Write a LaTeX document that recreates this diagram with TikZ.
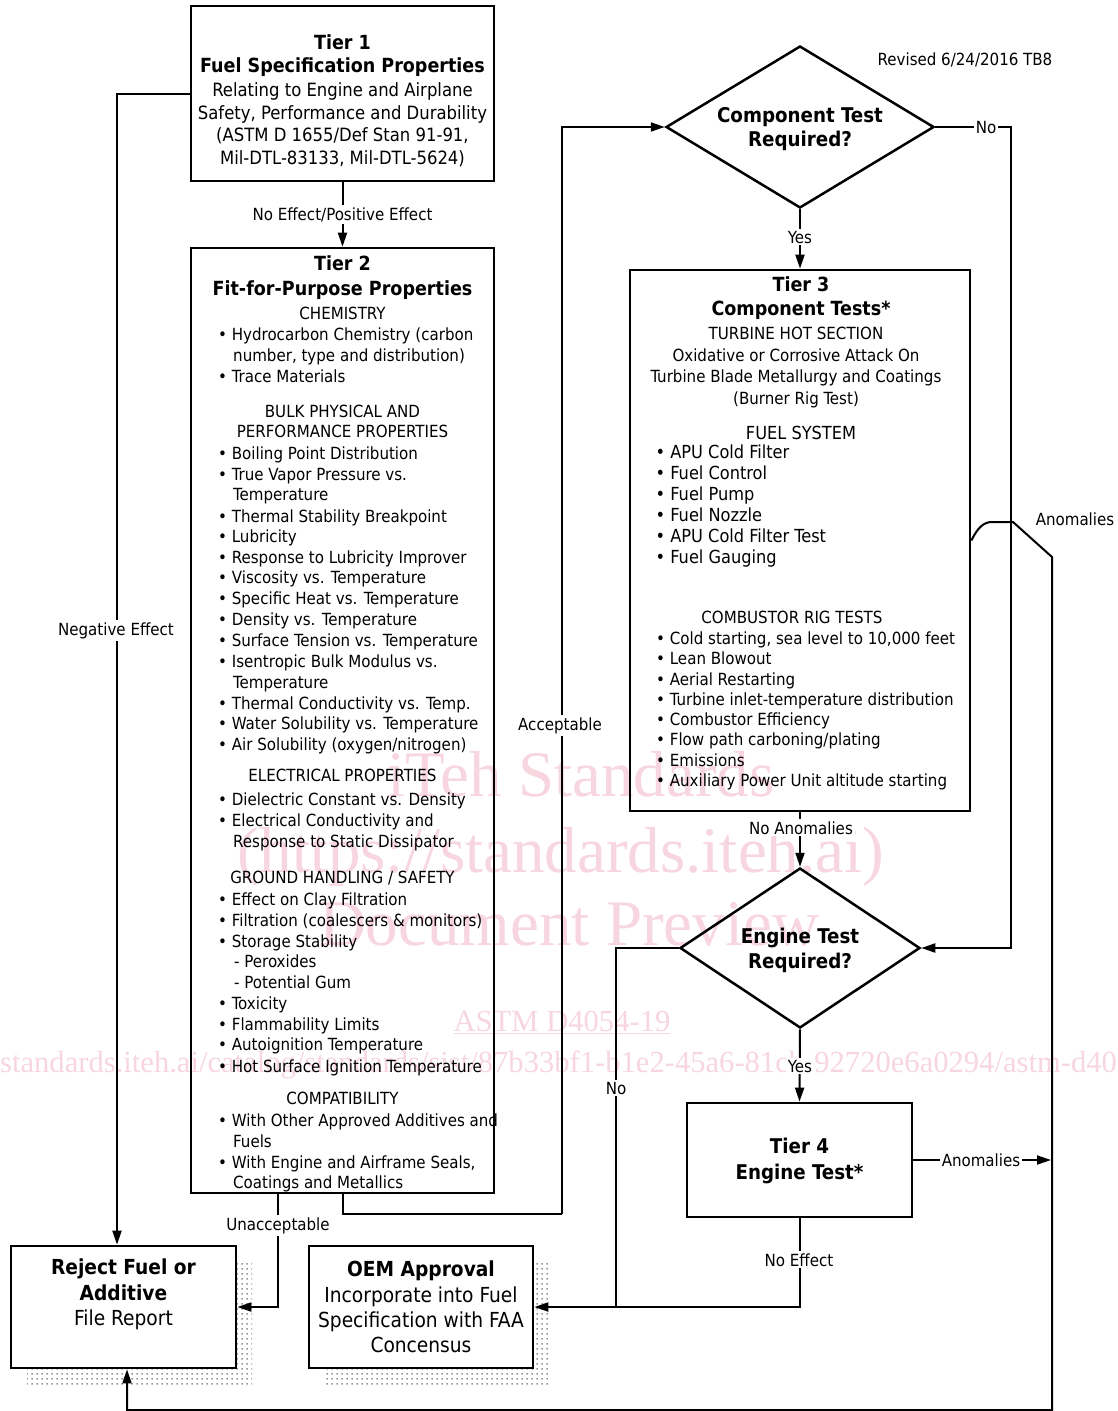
\documentclass[tikz,border=0pt]{standalone}
\usepackage{fontspec}
\setmainfont{DejaVu Sans Condensed}
\newfontfamily\wmfont{Liberation Serif}
\usetikzlibrary{arrows.meta,shapes.geometric,patterns.meta,calc}
\definecolor{wmc}{RGB}{248,214,224}
\definecolor{shd}{RGB}{150,150,150}
\newcommand\myfA{\fontsize{16.75pt}{20pt}\selectfont}
\newcommand\myfB{\fontsize{18.3pt}{22pt}\selectfont}
\newcommand\myfH{\fontsize{19.5pt}{23pt}\selectfont\bfseries}
\newcommand\myfD{\fontsize{20.3pt}{24pt}\selectfont\bfseries}
\newcommand\myfF{\fontsize{18pt}{21pt}\selectfont}
\newcommand\myfE{\fontsize{20.7pt}{25pt}\selectfont}
\newcommand\myfEb{\fontsize{20.7pt}{25pt}\selectfont\bfseries}
\newcommand\myfW{\fontsize{65pt}{70pt}\selectfont\wmfont}
\newcommand\myfU{\fontsize{30.6pt}{33pt}\selectfont\wmfont}
\newcounter{tlc}
\newcommand\myT[4]{\stepcounter{tlc}\node[#1] (L\arabic{tlc}) at (#2,#3) {#4};}
\tikzdeclarepattern{
  name=shdots,
  type=uncolored,
  bottom left={(0pt,0pt)},
  top right={(5pt,5pt)},
  tile size={(5pt,5pt)},
  code={\fill (1.5pt,1.5pt) rectangle (3.3pt,3.3pt);}
}
\tikzset{
  box/.style={draw, line width=2.7pt, inner sep=0pt, rectangle},
  dia/.style={draw, line width=2.5pt, inner sep=0pt, diamond},
  conn/.style={line width=2pt},
  arr/.style={line width=2pt, -{Triangle[length=14pt,width=9pt]}},
  lbl/.style={fill=white, inner sep=2pt, font=\myfA, anchor=base, yshift=-6.1pt},
  sm/.style={inner sep=0pt, font=\myfA, anchor=base, yshift=-6.1pt},
  smw/.style={sm, anchor=base west},
  md/.style={inner sep=0pt, font=\myfB, anchor=base, yshift=-6.7pt},
  hd/.style={inner sep=0pt, font=\myfH, anchor=base, yshift=-7.1pt},
  dd/.style={inner sep=0pt, font=\myfD, anchor=base, yshift=-7.4pt},
  fs/.style={inner sep=0pt, font=\myfF, anchor=base, yshift=-6.6pt},
  fsw/.style={fs, anchor=base west},
  bx/.style={inner sep=0pt, font=\myfE, anchor=base, yshift=-7.5pt},
  bxb/.style={inner sep=0pt, font=\myfEb, anchor=base, yshift=-7.5pt},
  shadow/.style={pattern=shdots, pattern color=shd},
  wm/.style={inner sep=0pt, text=wmc, anchor=base},
}
\begin{document}
\begin{tikzpicture}[x=1pt,y=-1pt]
\useasboundingbox (0,0) rectangle (1118,1411);
\clip (0,0) rectangle (1118,1411);
\fill[white] (0,0) rectangle (1118,1411);

% watermark
\node[wm, font=\myfW] (wm1) at (581,796.5) {iTeh Standards};
\node[wm, font=\myfW] (wm2) at (561,872) {(https://standards.iteh.ai)};
\node[wm, font=\myfW] (wm3) at (569,945) {Document Preview};
\node[wm, font=\myfU] (wm4) at (562,1031) {\underline{ASTM D4054-19}};
\node[wm, font=\myfU, anchor=base west] (wm5) at (0,1072) {standards.iteh.ai/catalog/standards/sist/87b33bf1-b1e2-45a6-81cb-92720e6a0294/astm-d4054-19};

% shadows
\fill[shadow] (27,1263) rectangle (252,1385);
\fill[shadow] (325,1263) rectangle (549,1385);

% boxes
\node[box, minimum width=303pt, minimum height=175pt] (t1) at (342.5,93.5) {};
\node[box, minimum width=303pt, minimum height=945pt] (t2) at (342.5,720.5) {};
\node[box, minimum width=340pt, minimum height=541pt] (t3) at (800,540.5) {};
\node[box, minimum width=225pt, minimum height=114pt] (t4) at (799.5,1160) {};
\node[box, fill=white, minimum width=225pt, minimum height=122pt] (rej) at (123.5,1307) {};
\node[box, fill=white, minimum width=224pt, minimum height=122pt] (oem) at (421,1307) {};
\node[dia, aspect=1.65, minimum width=268pt, minimum height=162pt] (comp) at (800,127) {};
\node[dia, aspect=1.5, minimum width=240pt, minimum height=160pt] (eng) at (800,948) {};

% waypoints
\coordinate (accc) at (562,1214);
\coordinate (noc) at (1011,500);
\coordinate (jn) at (616,1307);
\coordinate (anE) at (1051,1160);
\coordinate (hopA) at (992,522);
\coordinate (hopB) at (1013,522);
\coordinate (dgE) at (1052,557);
\coordinate (brR) at (1052,1410);
\coordinate (brL) at (127,1410);

% connectors
\draw[arr] (t1.south) -- (t2.north);
\draw[arr] (t1.west) -| ([xshift=-6.5pt]rej.north);
\draw[arr] ([xshift=-64.5pt]t2.south) |- (rej.east);
\draw[conn] (t2.south) |- (accc);
\draw[arr] (accc) |- (comp.west);
\draw[arr] (comp.south) -- (t3.north);
\draw[conn] (comp.east) -| (noc);
\draw[arr] (noc) |- (eng.east);
\draw[arr] (t3.south) -- (eng.north);
\draw[arr] (eng.south) -- (t4.north);
\draw[conn] (eng.west) -| (jn);
\draw[arr] (t4.south) |- (oem.east);
\draw[arr] (t4.east) -- (anE);
\draw[arr] (t3.east) .. controls (978,527) and (984,522) .. (hopA) -- (hopB) -- (dgE) -- (brR) -- (brL) -- ([xshift=3.5pt]rej.south);

% connector labels
\node[lbl] (lb1) at (342.5,214) {No Effect/Positive Effect};
\node[lbl] (lb2) at (116,629) {Negative Effect};
\node[lbl] (lb3) at (278,1224) {Unacceptable};
\node[lbl] (lb4) at (560,724) {Acceptable};
\node[lbl] (lb5) at (800,237) {Yes};
\node[lbl] (lb6) at (986,127) {No};
\node[lbl] (lb7) at (801,828) {No Anomalies};
\node[lbl] (lb8) at (800,1066) {Yes};
\node[lbl] (lb9) at (616,1088) {No};
\node[lbl] (lb10) at (799,1260) {No Effect};
\node[lbl] (lb11) at (981,1160) {Anomalies};
\node[sm] (lb12) at (1075,519) {Anomalies};
\node[sm] (lb13) at (965,59) {Revised 6/24/2016 TB8};

% Tier 1
\myT{hd}{342.5}{42}{Tier 1}
\myT{hd}{342.5}{65}{Fuel Specification Properties}
\myT{md}{342.5}{90}{Relating to Engine and Airplane}
\myT{md}{342.5}{113}{Safety, Performance and Durability}
\myT{md}{342.5}{135}{(ASTM D 1655/Def Stan 91-91,}
\myT{md}{342.5}{158}{Mil-DTL-83133, Mil-DTL-5624)}

% Tier 2
\myT{hd}{342.5}{263}{Tier 2}
\myT{hd}{342.5}{288}{Fit-for-Purpose Properties}
\myT{sm}{342.5}{313}{CHEMISTRY}
\myT{smw}{218}{334}{• Hydrocarbon Chemistry (carbon}
\myT{smw}{233}{355}{number, type and distribution)}
\myT{smw}{218}{376}{• Trace Materials}
\myT{sm}{342.5}{411}{BULK PHYSICAL AND}
\myT{sm}{342.5}{431}{PERFORMANCE PROPERTIES}
\myT{smw}{218}{453}{• Boiling Point Distribution}
\myT{smw}{218}{474}{• True Vapor Pressure vs.}
\myT{smw}{233}{494}{Temperature}
\myT{smw}{218}{516}{• Thermal Stability Breakpoint}
\myT{smw}{218}{536}{• Lubricity}
\myT{smw}{218}{557}{• Response to Lubricity Improver}
\myT{smw}{218}{577}{• Viscosity vs. Temperature}
\myT{smw}{218}{598}{• Specific Heat vs. Temperature}
\myT{smw}{218}{619}{• Density vs. Temperature}
\myT{smw}{218}{640}{• Surface Tension vs. Temperature}
\myT{smw}{218}{661}{• Isentropic Bulk Modulus vs.}
\myT{smw}{233}{682}{Temperature}
\myT{smw}{218}{703}{• Thermal Conductivity vs. Temp.}
\myT{smw}{218}{723}{• Water Solubility vs. Temperature}
\myT{smw}{218}{744}{• Air Solubility (oxygen/nitrogen)}
\myT{sm}{342.5}{775}{ELECTRICAL PROPERTIES}
\myT{smw}{218}{799}{• Dielectric Constant vs. Density}
\myT{smw}{218}{820}{• Electrical Conductivity and}
\myT{smw}{233}{841}{Response to Static Dissipator}
\myT{sm}{342.5}{877}{GROUND HANDLING / SAFETY}
\myT{smw}{218}{899}{• Effect on Clay Filtration}
\myT{smw}{218}{920}{• Filtration (coalescers \& monitors)}
\myT{smw}{218}{941}{• Storage Stability}
\myT{smw}{234}{961}{- Peroxides}
\myT{smw}{234}{982}{- Potential Gum}
\myT{smw}{218}{1003}{• Toxicity}
\myT{smw}{218}{1024}{• Flammability Limits}
\myT{smw}{218}{1044}{• Autoignition Temperature}
\myT{smw}{218}{1066}{• Hot Surface Ignition Temperature}
\myT{sm}{342.5}{1098}{COMPATIBILITY}
\myT{smw}{218}{1120}{• With Other Approved Additives and}
\myT{smw}{233}{1141}{Fuels}
\myT{smw}{218}{1162}{• With Engine and Airframe Seals,}
\myT{smw}{233}{1182}{Coatings and Metallics}

% Tier 3
\myT{hd}{801}{284}{Tier 3}
\myT{hd}{801}{308}{Component Tests*}
\myT{sm}{796}{333}{TURBINE HOT SECTION}
\myT{sm}{796}{355}{Oxidative or Corrosive Attack On}
\myT{sm}{796}{376}{Turbine Blade Metallurgy and Coatings}
\myT{sm}{796}{398}{(Burner Rig Test)}
\myT{fs}{801}{433}{FUEL SYSTEM}
\myT{fsw}{655.5}{452}{• APU Cold Filter}
\myT{fsw}{655.5}{473}{• Fuel Control}
\myT{fsw}{655.5}{494}{• Fuel Pump}
\myT{fsw}{655.5}{515}{• Fuel Nozzle}
\myT{fsw}{655.5}{536}{• APU Cold Filter Test}
\myT{fsw}{655.5}{557}{• Fuel Gauging}
\myT{sm}{792}{617}{COMBUSTOR RIG TESTS}
\myT{smw}{656}{638}{• Cold starting, sea level to 10,000 feet}
\myT{smw}{656}{658}{• Lean Blowout}
\myT{smw}{656}{679}{• Aerial Restarting}
\myT{smw}{656}{699}{• Turbine inlet-temperature distribution}
\myT{smw}{656}{719}{• Combustor Efficiency}
\myT{smw}{656}{739}{• Flow path carboning/plating}
\myT{smw}{656}{760}{• Emissions}
\myT{smw}{656}{780}{• Auxiliary Power Unit altitude starting}

% diamonds
\myT{dd}{800}{115}{Component Test}
\myT{dd}{800}{139}{Required?}
\myT{dd}{800}{936}{Engine Test}
\myT{dd}{800}{961}{Required?}

% Tier 4
\myT{dd}{799.5}{1146}{Tier 4}
\myT{dd}{799.5}{1172}{Engine Test*}

% Reject
\myT{bxb}{123.5}{1267}{Reject Fuel or}
\myT{bxb}{123.5}{1292.5}{Additive}
\myT{bx}{123.5}{1318}{File Report}

% OEM
\myT{bxb}{421}{1269}{OEM Approval}
\myT{bx}{421}{1294.5}{Incorporate into Fuel}
\myT{bx}{421}{1319.5}{Specification with FAA}
\myT{bx}{421}{1344.5}{Concensus}
\end{tikzpicture}
\end{document}
